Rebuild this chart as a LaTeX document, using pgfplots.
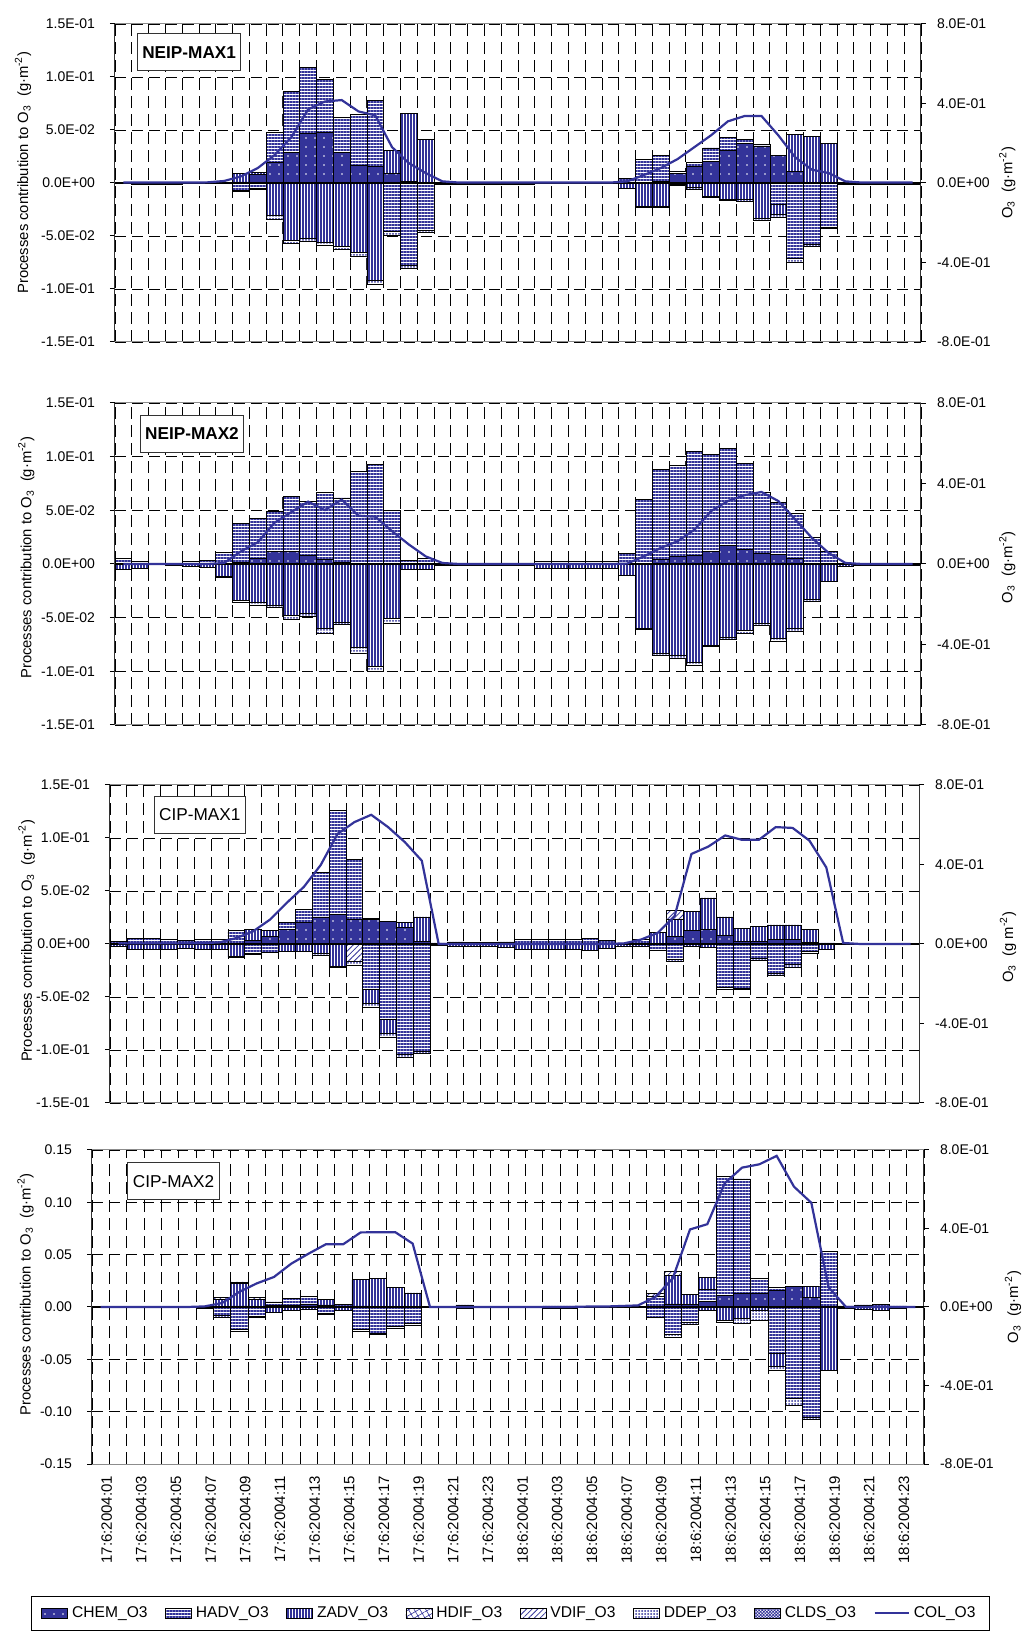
\documentclass[border=0pt]{standalone}
\usepackage{fontspec}
\setmainfont{Liberation Sans}
\usepackage{pgfplots}
\usepackage{pgfplotstable}
\pgfplotsset{compat=1.18}
\usetikzlibrary{patterns,patterns.meta}
\definecolor{navy}{HTML}{333399}

% columns: x, positive CHEM/HADV/ZADV/VDIF, negative CHEM/HADV/ZADV/VDIF/DDEP, column O3
\pgfplotstableread{
x cp hp zp vp cn hn zn vn dn col
0 0 0.001 0 0 0 0 -0.0005 0 0 0.002
1 0 0.0005 0 0 0 0 -0.0015 0 0 0.002
2 0 0.0005 0 0 0 0 -0.0015 0 0 0.002
3 0 0.0005 0 0 0 0 -0.0015 0 0 0.002
4 0 0.0005 0 0 0 0 -0.0005 0 0 0.002
5 0 0.0005 0 0 0 0 -0.0005 0 0 0.003
6 0 0.0005 0 0 0 0 -0.0005 0 0 0.01
7 0.001 0 0.008 0 0 -0.007 0 0 -0.0008 0.033
8 0.008 0 0.002 0 0 -0.005 0 0 -0.0006 0.075
9 0.019 0.0285 0 0 0 0 -0.031 0 -0.003 0.14
10 0.029 0.057 0 0 0 0 -0.054 0 -0.003 0.23
11 0.047 0.062 0 0 0 0 -0.0525 0 -0.0025 0.37
12 0.048 0.050 0 0 0 0 -0.056 0 -0.003 0.41
13 0.029 0.033 0 0 0 0 -0.060 0 -0.003 0.417
14 0.017 0.048 0 0 0 0 -0.065 0 -0.004 0.36
15 0.016 0.062 0 0 0 0 -0.092 0 -0.004 0.34
16 0.009 0 0.022 0 0 -0.046 0 0 -0.003 0.18
17 0.0015 0 0.0645 0 0 -0.078 0 0 -0.003 0.10
18 0 0 0.041 0 0 -0.045 0 0 -0.002 0.05
19 0 0.001 0 0 0 0 -0.001 0 0 0.008
20 0 0.001 0 0 0 0 -0.0015 0 0 0.002
21 0 0.001 0 0 0 0 -0.0015 0 0 0.002
22 0 0.001 0 0 0 0 -0.0015 0 0 0.002
23 0 0.001 0 0 0 0 -0.0015 0 0 0.002
24 0 0.0005 0 0 0 0 -0.001 0 0 0.002
25 0 0.0005 0 0 0 0 -0.0005 0 0 0.002
26 0 0.0005 0 0 0 0 -0.0005 0 0 0.002
27 0 0.0005 0 0 0 0 -0.0005 0 0 0.002
28 0 0.0005 0 0 0 0 -0.0005 0 0 0.002
29 0 0.0005 0 0 0 0 -0.0005 0 0 0.002
30 0.001 0.003 0 0 0 0 -0.005 0 0 0.008
31 0 0.022 0 0 0 0 -0.022 0 -0.001 0.04
32 0.002 0.024 0 0 0 0 -0.022 0 -0.001 0.075
33 0.009 0.002 0 0 0 0 -0.001 0 -0.001 0.12
34 0.016 0.003 0 0 0 0 -0.004 0 -0.002 0.18
35 0.020 0.013 0 0 0 0 -0.0125 0 -0.0015 0.24
36 0.031 0.012 0 0 0 0 -0.015 0 -0.0015 0.31
37 0.037 0.004 0 0 0 0 -0.0155 0 -0.002 0.337
38 0.035 0.001 0 0 0 0 -0.033 0 -0.002 0.337
39 0.026 0 0 0 0 -0.020 -0.010 0 -0.002 0.24
40 0.011 0 0.035 0 0 -0.071 0 0 -0.004 0.13
41 0 0 0.044 0 0 -0.058 0 0 -0.0015 0.067
42 0 0 0.0375 0 0 -0.0416 0 0 -0.001 0.05
43 0 0.001 0 0 0 0 -0.001 0 0 0.008
44 0 0.001 0 0 0 0 -0.001 0 0 0.002
45 0 0.001 0 0 0 0 -0.001 0 0 0.002
46 0 0.001 0 0 0 0 -0.001 0 0 0.002
47 0 0.001 0 0 0 0 -0.001 0 0 0.002
}\tA

\pgfplotstableread{
x cp hp zp vp cn hn zn vn dn col
0 0 0.005 0 0 0 0 -0.005 0 0 0
1 0 0.0025 0 0 0 0 -0.004 0 0 0
2 0 0 0 0 0 0 0 0 0 0
3 0 0.001 0 0 0 0 -0.001 0 0 0
4 0 0.002 0 0 0 0 -0.002 0 0 0
5 0 0.003 0 0 0 0 -0.003 0 0 0
6 0 0.011 0 0 0 0 -0.0115 0 -0.0005 0.005
7 0.0015 0.036 0 0 0 0 -0.034 0 -0.002 0.063
8 0.0055 0.037 0 0 0 0 -0.036 0 -0.0025 0.108
9 0.012 0.037 0 0 0 0 -0.0385 0 -0.0015 0.205
10 0.012 0.051 0 0 0 0 -0.048 0 -0.004 0.258
11 0.0085 0.0495 0 0 0 0 -0.046 0 -0.003 0.31
12 0.0047 0.062 0 0 0 0 -0.060 0 -0.005 0.268
13 0.0015 0.060 0 0 0 0 -0.054 0 -0.0025 0.32
14 0.0005 0.0855 0 0 0 0 -0.078 0 -0.005 0.24
15 0.0005 0.0925 0 0 0 0 -0.095 0 -0.005 0.235
16 0.0005 0.0495 0 0 0 0 -0.051 0 -0.004 0.163
17 0 0.0035 0 0 0 0 -0.0047 0 0 0.097
18 0 0.005 0 0 0 0 -0.005 0 0 0.038
19 0 0.001 0 0 0 0 -0.001 0 0 0.005
20 0 0.0005 0 0 0 0 -0.001 0 0 0
21 0 0.0005 0 0 0 0 -0.001 0 0 0
22 0 0.0005 0 0 0 0 -0.001 0 0 0
23 0 0.0005 0 0 0 0 -0.001 0 0 0
24 0 0.0005 0 0 0 0 -0.001 0 0 0
25 0 0.0025 0 0 0 0 -0.004 0 0 0
26 0 0.0025 0 0 0 0 -0.004 0 0 0
27 0 0.0025 0 0 0 0 -0.004 0 0 0
28 0 0.0025 0 0 0 0 -0.004 0 0 0
29 0 0.0025 0 0 0 0 -0.004 0 0 0
30 0 0.0096 0 0 0 0 -0.0105 0 0 0.002
31 0 0.0605 0 0 0 0 -0.060 0 -0.001 0.038
32 0.004 0.084 0 0 0 0 -0.0835 0 -0.002 0.08
33 0.007 0.085 0 0 0 0 -0.085 0 -0.0025 0.113
34 0.008 0.097 0 0 0 0 -0.0915 0 -0.003 0.17
35 0.012 0.090 0 0 0 0 -0.076 0 -0.001 0.263
36 0.017 0.091 0 0 0 0 -0.068 0 -0.0025 0.313
37 0.0135 0.080 0 0 0 0 -0.062 0 -0.003 0.342
38 0.010 0.0567 0 0 0 0 -0.055 0 -0.0025 0.358
39 0.0087 0.0488 0 0 0 0 -0.069 0 -0.003 0.313
40 0.005 0.042 0 0 0 0 -0.060 0 -0.003 0.222
41 0 0.025 0 0 0 0 -0.033 0 -0.002 0.13
42 0 0.012 0 0 0 0 -0.016 0 0 0.055
43 0 0.001 0 0 0 0 -0.002 0 0 0.005
44 0 0.0005 0 0 0 0 -0.001 0 0 0
45 0 0.0005 0 0 0 0 -0.001 0 0 0
46 0 0.0005 0 0 0 0 -0.001 0 0 0
47 0 0.0005 0 0 0 0 -0.001 0 0 0
}\tB

\pgfplotstableread{
x cp hp zp vp cn hn zn vn dn col
0 0 0.0025 0 0 0 0 -0.002 0 0 0.003
1 0 0.005 0 0 0 0 -0.005 0 0 0.003
2 0 0.0056 0 0 0 0 -0.005 0 0 0.003
3 0 0.004 0 0 0 0 -0.0047 0 0 0.003
4 0 0.003 0 0 0 0 -0.0044 0 0 0.003
5 0 0.004 0 0 0 0 -0.005 0 0 0.004
6 0 0.004 0 0 0 0 -0.0047 0 0 0.008
7 0 0.0125 0 0 0 0 -0.0116 0 -0.001 0.03
8 0.003 0 0.011 0 0 -0.0085 0 0 -0.001 0.064
9 0.007 0 0.006 0 0 -0.008 0 0 0 0.123
10 0.0135 0.0065 0 0 0 0 -0.007 0 0 0.208
11 0.020 0.0125 0 0 0 0 -0.007 0 0 0.287
12 0.0255 0.0425 0 0 0 0 -0.009 0 -0.002 0.397
13 0.0275 0.0985 0 0 0 0 -0.021 0 -0.0015 0.554
14 0.0235 0.0565 0 0 0 0 0 -0.016 -0.0045 0.613
15 0.023 0.0015 0 0 0 -0.043 -0.0127 0 -0.0043 0.650
16 0.021 0.0005 0 0 0 -0.0708 -0.0138 0 -0.0031 0.588
17 0.016 0 0.004 0 0 -0.1044 0 0 -0.0022 0.512
18 0.0025 0 0.023 0 0 -0.101 0 0 -0.002 0.419
19 0 0.001 0 0 0 0 -0.0015 0 0 0
20 0 0.002 0 0 0 0 -0.002 0 0 0
21 0 0.0015 0 0 0 0 -0.002 0 0 0
22 0 0.0015 0 0 0 0 -0.0025 0 0 0
23 0 0.002 0 0 0 0 -0.003 0 0 0
24 0 0.004 0 0 0 0 -0.005 0 0 0
25 0 0.004 0 0 0 0 -0.005 0 0 0
26 0 0.004 0 0 0 0 -0.005 0 0 0
27 0 0.004 0 0 0 0 -0.005 0 0 0
28 0 0.005 0 0 0 0 -0.006 0 0 0
29 0 0.003 0 0 0 0 -0.004 0 0 0
30 0 0.001 0 0 0 0 -0.002 0 0 0.003
31 0 0.004 0 0 0 0 -0.002 0 0 0.022
32 0 0 0.011 0 0 -0.006 0 0 0 0.056
33 0.007 0 0.0166 0.0084 0 -0.0148 0 0 -0.002 0.14
34 0.013 0 0.018 0 0 0 -0.002 0 0 0.453
35 0.014 0 0.0294 0 0 0 -0.003 0 0 0.49
36 0.008 0 0.0175 0 0 -0.0406 0 0 -0.002 0.546
37 0.0025 0 0.0125 0 0 -0.0415 0 0 -0.0015 0.524
38 0.0025 0 0.0142 0 0 -0.0138 0 0 -0.0016 0.524
39 0.004 0 0.014 0 0 -0.0274 0 0 -0.0026 0.588
40 0.004 0 0.014 0 0 -0.0195 0 0 -0.0022 0.584
41 0.0015 0 0.0125 0 0 -0.007 0 0 -0.0015 0.52
42 0 0.001 0 0 0 0 -0.005 0 0 0.385
43 0 0.0005 0 0 0 0 -0.0005 0 0 0.005
44 0 0.0005 0 0 0 0 -0.0005 0 0 0
45 0 0.0005 0 0 0 0 -0.0005 0 0 0
46 0 0.0005 0 0 0 0 -0.0005 0 0 0
47 0 0.0005 0 0 0 0 -0.0005 0 0 0
}\tC

\pgfplotstableread{
x cp hp zp vp cn hn zn vn dn col
0 0 0.0003 0 0 0 0 -0.0005 0 0 0
1 0 0.0003 0 0 0 0 -0.0005 0 0 0
2 0 0.0003 0 0 0 0 -0.0005 0 0 0
3 0 0.0003 0 0 0 0 -0.0005 0 0 0
4 0 0.0003 0 0 0 0 -0.0005 0 0 0
5 0 0.0003 0 0 0 0 -0.0005 0 0 0
6 0 0.0005 0 0 0 0 -0.001 0 0 0.003
7 0.0005 0 0.0065 0.0025 0 -0.008 0 0 -0.002 0.02
8 0.001 0 0.0213 0.0017 0 -0.0216 0 0 -0.0014 0.077
9 0 0 0.0073 0.0022 0 -0.0086 0 0 -0.0014 0.12
10 0.002 0.0028 0 0 0 0 -0.0048 0 0 0.153
11 0.002 0.006 0 0 0 0 -0.003 0 0 0.221
12 0.003 0.007 0 0 0 0 -0.002 0 0 0.272
13 0.002 0 0.0053 0 0 -0.006 0 0 -0.001 0.32
14 0.001 0.002 0 0 0 0 -0.003 0 0 0.32
15 0.001 0 0.025 0 0 -0.0216 0 0 -0.0014 0.38
16 0 0 0.0274 0 0 -0.0248 0 0 -0.0012 0.381
17 0 0 0.019 0 0 -0.0185 0 0 -0.0015 0.381
18 0 0 0.0134 0 0 -0.016 0 0 -0.0015 0.323
19 0 0.0005 0 0 0 0 -0.0005 0 0 0
20 0 0.0005 0 0 0 0 -0.0005 0 0 0
21 0 0.002 0 0 0 0 -0.001 0 0 0
22 0 0.0005 0 0 0 0 -0.0005 0 0 0
23 0 0.0005 0 0 0 0 -0.0005 0 0 0
24 0 0.0005 0 0 0 0 -0.0005 0 0 0
25 0 0.0005 0 0 0 0 -0.0005 0 0 0
26 0 0.001 0 0 0 0 -0.001 0 0 0
27 0 0.001 0 0 0 0 -0.0015 0 0 0
28 0 0.0003 0 0 0 0 -0.0003 0 0 0.002
29 0 0.0003 0 0 0 0 -0.0003 0 0 0.002
30 0 0.0003 0 0 0 0 -0.0003 0 0 0.005
31 0 0.0005 0 0 0 0 -0.0005 0 0 0.008
32 0.001 0.009 0 0.0027 0 -0.0095 0 0 0 0.051
33 0.003 0 0.027 0.004 0 -0.026 0 0 -0.0026 0.145
34 0.0025 0 0.0099 0 0 -0.0143 0 0 -0.0025 0.395
35 0.0057 0.0112 0.0117 0 0 0 -0.003 0 0 0.422
36 0.011 0.114 0 0 0 0 -0.0127 0 -0.0016 0.63
37 0.0134 0.109 0 0 0 0 -0.0105 0 -0.0048 0.71
38 0.0127 0.015 0 0 0 0 -0.003 0 -0.0097 0.727
39 0.016 0.003 0 0 0 -0.0445 -0.0125 0 -0.004 0.77
40 0.0197 0 0 0 0 -0.0875 0 0 -0.0065 0.613
41 0.0095 0 0.0105 0 0 -0.105 0 0 -0.002 0.531
42 0 0.0534 0 0 0 0 -0.061 0 0 0.10
43 0 0.001 0 0 0 0 -0.001 0 0 0
44 0 0.002 0 0 0 0 -0.002 0 0 0
45 0 0.0025 0 0 0 0 -0.003 0 0 0
46 0 0.001 0 0 0 0 -0.001 0 0 0
47 0 0.0005 0 0 0 0 -0.0005 0 0 0
}\tD

\tikzset{
  chem/.style={draw=black, line width=0.35pt, preaction={fill=navy}, pattern={Dots[radius=0.45pt,distance=4.5pt]}, pattern color=white},
  hadv/.style={draw=black, line width=0.35pt, preaction={fill=white}, pattern={Lines[angle=0,distance=1.5pt,line width=0.56pt]}, pattern color=navy},
  zadv/.style={draw=black, line width=0.35pt, preaction={fill=white}, pattern={Lines[angle=90,distance=1.5pt,line width=0.56pt]}, pattern color=navy},
  hdif/.style={draw=black, line width=0.35pt, preaction={fill=white}, pattern={Hatch[angle=30,distance=2.5pt,line width=0.3pt]}, pattern color=navy},
  vdif/.style={draw=black, line width=0.35pt, preaction={fill=white}, pattern={Lines[angle=45,distance=2pt,line width=0.4pt]}, pattern color=navy},
  ddep/.style={draw=black, line width=0.35pt, preaction={fill=white}, pattern={Dots[radius=0.5pt,distance=1.5pt]}, pattern color=navy},
  clds/.style={draw=black, line width=0.35pt, preaction={fill=white}, pattern={Hatch[angle=45,distance=1.1pt,line width=0.35pt]}, pattern color=navy},
  legarea/.style={/pgfplots/legend image code/.code={\draw[##1] (0pt,-2.6pt) rectangle (13pt,2.6pt);}},
  plabel/.style={draw=black!80, line width=0.5pt, fill=white, inner xsep=2.5pt, minimum height=18.5pt, font=\fontsize{8.6}{10}\selectfont},
}
\pgfplotsset{
  every axis/.append style={font=\fontsize{7}{8.4}\selectfont},
  panelbase/.style={scale only axis, anchor=south west, enlargelimits=false, xmin=-0.5, xmax=47.5},
  leftax/.style={panelbase, ymin=-0.15, ymax=0.15, ybar stacked, bar width=1,
     ytick={-0.15,-0.1,-0.05,0,0.05,0.1,0.15},
     axis x line*=box, axis y line*=left,
     x axis line style={black!45, line width=0.5pt}, y axis line style={black!80, line width=0.5pt},
     tick align=outside, major tick length=2.5pt, minor tick length=0pt,
     ymajorgrids, xminorgrids, minor xtick={-0.5,0.5,...,47.5},
     xtick={0,2,...,46},
     major grid style={black, line width=0.45pt, dash pattern=on 5.5pt off 3pt},
     minor grid style={black, line width=0.45pt, dash pattern=on 6pt off 3pt},
     xtick style={draw=none}, ytick style={black, line width=0.5pt},
     yticklabel style={xshift=-4pt},
     ylabel style={font=\fontsize{7.4}{9}\selectfont}},
  negax/.style={panelbase, ymin=-0.15, ymax=0.15, ybar stacked, bar width=1, hide axis},
  rightax/.style={panelbase, ymin=-0.8, ymax=0.8, axis x line=none, axis y line*=right,
     ytick={-0.8,-0.4,0,0.4,0.8}, yticklabels={-8.0E-01,-4.0E-01,0.0E+00,4.0E-01,8.0E-01},
     tick align=outside, major tick length=2.5pt, ytick style={black, line width=0.5pt},
     y axis line style={black!80, line width=0.5pt}, yticklabel style={xshift=2pt},
     ylabel style={font=\fontsize{7.4}{9}\selectfont}},
}

\begin{document}
\begin{tikzpicture}[font=\fontsize{7}{8.4}\selectfont]
% ---------------- Panel 1: NEIP-MAX1
\begin{axis}[leftax, at={(57.5pt,645pt)}, width=403pt, height=159pt, xticklabels={},
  yticklabels={-1.5E-01,-1.0E-01,-5.0E-02,0.0E+00,5.0E-02,1.0E-01,1.5E-01},
  ylabel={Processes contribution to O\textsubscript{3}\ \ (g·m\textsuperscript{-2})},
  ylabel style={at={(axis description cs:-0.114,0.533)}, anchor=center}]
\addplot[chem] table[x=x,y=cp]{\tA};
\addplot[hadv] table[x=x,y=hp]{\tA};
\addplot[zadv] table[x=x,y=zp]{\tA};
\addplot[vdif] table[x=x,y=vp]{\tA};
\node[plabel, font=\bfseries\fontsize{8.6}{10}\selectfont] at (rel axis cs:0.092,0.911) {NEIP-MAX1};
\end{axis}
\begin{axis}[negax, at={(57.5pt,645pt)}, width=403pt, height=159pt]
\addplot[chem] table[x=x,y=cn]{\tA};
\addplot[hadv] table[x=x,y=hn]{\tA};
\addplot[zadv] table[x=x,y=zn]{\tA};
\addplot[vdif] table[x=x,y=vn]{\tA};
\addplot[ddep] table[x=x,y=dn]{\tA};
\end{axis}
\begin{axis}[rightax, at={(57.5pt,645pt)}, width=403pt, height=159pt,
  ylabel={O\textsubscript{3}\ \ (g·m\textsuperscript{-2})},
  ylabel style={at={(axis description cs:1.107,0.5)}, anchor=center}]
\draw[black, line width=1pt] (axis cs:-0.5,0) -- (axis cs:47.5,0);
\addplot[navy, line width=1.1pt, mark=none] table[x=x,y=col]{\tA};
\end{axis}

% ---------------- Panel 2: NEIP-MAX2
\begin{axis}[leftax, at={(57.5pt,453.5pt)}, width=403pt, height=161pt, xticklabels={},
  yticklabels={-1.5E-01,-1.0E-01,-5.0E-02,0.0E+00,5.0E-02,1.0E-01,1.5E-01},
  ylabel={Processes contribution to O\textsubscript{3}\ \ (g·m\textsuperscript{-2})},
  ylabel style={at={(axis description cs:-0.11,0.52)}, anchor=center}]
\addplot[chem] table[x=x,y=cp]{\tB};
\addplot[hadv] table[x=x,y=hp]{\tB};
\addplot[zadv] table[x=x,y=zp]{\tB};
\addplot[vdif] table[x=x,y=vp]{\tB};
\node[plabel, font=\bfseries\fontsize{8.6}{10}\selectfont] at (rel axis cs:0.0955,0.905) {NEIP-MAX2};
\end{axis}
\begin{axis}[negax, at={(57.5pt,453.5pt)}, width=403pt, height=161pt]
\addplot[chem] table[x=x,y=cn]{\tB};
\addplot[hadv] table[x=x,y=hn]{\tB};
\addplot[zadv] table[x=x,y=zn]{\tB};
\addplot[vdif] table[x=x,y=vn]{\tB};
\addplot[ddep] table[x=x,y=dn]{\tB};
\end{axis}
\begin{axis}[rightax, at={(57.5pt,453.5pt)}, width=403pt, height=161pt,
  ylabel={O\textsubscript{3}\ \ (g·m\textsuperscript{-2})},
  ylabel style={at={(axis description cs:1.107,0.49)}, anchor=center}]
\draw[black, line width=1pt] (axis cs:-0.5,0) -- (axis cs:47.5,0);
\addplot[navy, line width=1.1pt, mark=none] table[x=x,y=col]{\tB};
\end{axis}

% ---------------- Panel 3: CIP-MAX1
\begin{axis}[leftax, at={(55pt,264.5pt)}, width=404.5pt, height=159pt, xticklabels={},
  yticklabels={-1.5E-01,-1.0E-01,-5.0E-02,0.0E+00,5.0E-02,1.0E-01,1.5E-01},
  ylabel={Processes contribution to O\textsubscript{3}\ \ (g·m\textsuperscript{-2})},
  ylabel style={at={(axis description cs:-0.103,0.51)}, anchor=center}]
\addplot[chem] table[x=x,y=cp]{\tC};
\addplot[hadv] table[x=x,y=hp]{\tC};
\addplot[zadv] table[x=x,y=zp]{\tC};
\addplot[vdif] table[x=x,y=vp]{\tC};
\node[plabel] at (rel axis cs:0.111,0.907) {CIP-MAX1};
\end{axis}
\begin{axis}[negax, at={(55pt,264.5pt)}, width=404.5pt, height=159pt]
\addplot[chem] table[x=x,y=cn]{\tC};
\addplot[hadv] table[x=x,y=hn]{\tC};
\addplot[zadv] table[x=x,y=zn]{\tC};
\addplot[vdif] table[x=x,y=vn]{\tC};
\addplot[ddep] table[x=x,y=dn]{\tC};
\end{axis}
\begin{axis}[rightax, at={(55pt,264.5pt)}, width=404.5pt, height=159pt,
  ylabel={O\textsubscript{3}\ \ (g m\textsuperscript{-2})},
  ylabel style={at={(axis description cs:1.11,0.49)}, anchor=center}]
\draw[black, line width=1pt] (axis cs:-0.5,0) -- (axis cs:47.5,0);
\addplot[navy, line width=1.1pt, mark=none] table[x=x,y=col]{\tC};
\end{axis}

% ---------------- Panel 4: CIP-MAX2
\begin{axis}[leftax, at={(46pt,84pt)}, width=416pt, height=157pt,
  yticklabels={-0.15,-0.10,-0.05,0.00,0.05,0.10,0.15},
  xticklabels={17:6:2004:01,17:6:2004:03,17:6:2004:05,17:6:2004:07,17:6:2004:09,17:6:2004:11,17:6:2004:13,17:6:2004:15,17:6:2004:17,17:6:2004:19,17:6:2004:21,17:6:2004:23,18:6:2004:01,18:6:2004:03,18:6:2004:05,18:6:2004:07,18:6:2004:09,18:6:2004:11,18:6:2004:13,18:6:2004:15,18:6:2004:17,18:6:2004:19,18:6:2004:21,18:6:2004:23},
  xticklabel style={rotate=90, anchor=east, yshift=-3pt, font=\fontsize{7.5}{9}\selectfont},
  ylabel={Processes contribution to O\textsubscript{3}\ \ (g·m\textsuperscript{-2})},
  ylabel style={at={(axis description cs:-0.08,0.54)}, anchor=center}]
\addplot[chem] table[x=x,y=cp]{\tD};
\addplot[hadv] table[x=x,y=hp]{\tD};
\addplot[zadv] table[x=x,y=zp]{\tD};
\addplot[vdif] table[x=x,y=vp]{\tD};
\node[plabel] at (rel axis cs:0.098,0.901) {CIP-MAX2};
\end{axis}
\begin{axis}[negax, at={(46pt,84pt)}, width=416pt, height=157pt]
\addplot[chem] table[x=x,y=cn]{\tD};
\addplot[hadv] table[x=x,y=hn]{\tD};
\addplot[zadv] table[x=x,y=zn]{\tD};
\addplot[vdif] table[x=x,y=vn]{\tD};
\addplot[ddep] table[x=x,y=dn]{\tD};
\end{axis}
\begin{axis}[rightax, at={(46pt,84pt)}, width=416pt, height=157pt,
  ylabel={O\textsubscript{3}\ \ (g·m\textsuperscript{-2})},
  ylabel style={at={(axis description cs:1.107,0.5)}, anchor=center},
  legend columns=8, legend cell align=left,
  legend style={at={(axis description cs:0.503,-0.42)}, anchor=north, draw=black, line width=0.5pt,
    font=\fontsize{7.8}{9}\selectfont, inner xsep=5pt, inner ysep=3pt,
    /tikz/every even column/.append style={column sep=6.8pt}}]
\addlegendimage{legarea, chem}
\addlegendimage{legarea, hadv}
\addlegendimage{legarea, zadv}
\addlegendimage{legarea, hdif}
\addlegendimage{legarea, vdif}
\addlegendimage{legarea, ddep}
\addlegendimage{legarea, clds}
\draw[black, line width=1pt] (axis cs:-0.5,0) -- (axis cs:47.5,0);
\addplot[navy, line width=1.1pt, mark=none] table[x=x,y=col]{\tD};
\legend{CHEM\_O3, HADV\_O3, ZADV\_O3, HDIF\_O3, VDIF\_O3, DDEP\_O3, CLDS\_O3, COL\_O3}
\end{axis}
\pgfresetboundingbox
\useasboundingbox (0,0) rectangle (513pt,816pt);
\end{tikzpicture}
\end{document}
